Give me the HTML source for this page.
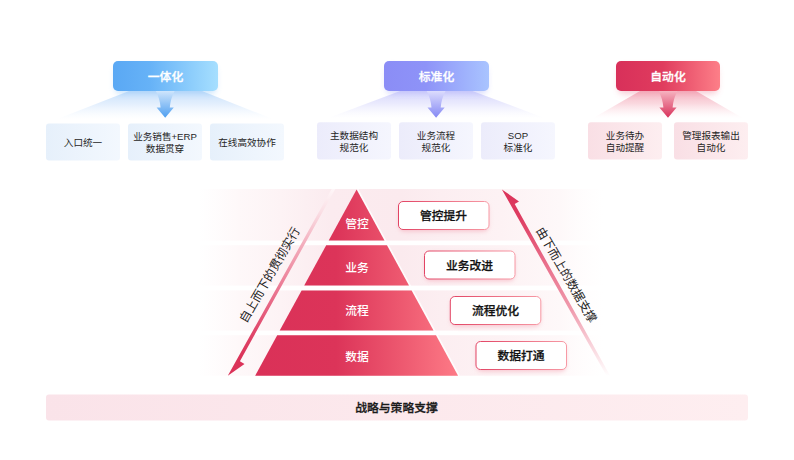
<!DOCTYPE html>
<html lang="zh-CN">
<head>
<meta charset="utf-8">
<title>战略与策略支撑</title>
<style>
html,body{margin:0;padding:0;background:#fff;}
body{width:794px;height:460px;position:relative;overflow:hidden;font-family:"Liberation Sans","Noto Sans CJK SC",sans-serif;color:#2b2b2b;}
#bg{position:absolute;left:0;top:0;width:794px;height:460px;}
.t{position:absolute;display:flex;align-items:center;justify-content:center;text-align:center;white-space:nowrap;}
.hd{color:#fff;font-weight:500;-webkit-text-stroke:0.3px #fff;font-size:11.8px;height:30px;top:60px;width:105px;}
.cd{font-size:9.6px;line-height:12px;height:37px;top:124.600px;width:74px;color:#262626;}
.py{color:#fff;font-size:11.8px;font-weight:500;width:60px;left:327px;height:20px;}
.lb{color:#111;font-size:11.8px;font-weight:500;-webkit-text-stroke:0.25px #111;width:91px;height:28px;}
.rot{font-size:12px;color:#222;width:140px;height:16px;font-weight:400;}
</style>
</head>
<body>
<svg id="bg" width="794" height="460" viewBox="0 0 794 460">
<defs>
  <linearGradient id="hb" x1="0" y1="0" x2="1" y2="0"><stop offset="0" stop-color="#5aa8f4"/><stop offset="0.35" stop-color="#66b2f7"/><stop offset="1" stop-color="#a6dfff"/></linearGradient>
  <linearGradient id="hp" x1="0" y1="0" x2="1" y2="0"><stop offset="0" stop-color="#8b8df6"/><stop offset="0.4" stop-color="#8e93f8"/><stop offset="1" stop-color="#a9c4ff"/></linearGradient>
  <linearGradient id="hr" x1="0" y1="0" x2="1" y2="0"><stop offset="0" stop-color="#d8305a"/><stop offset="0.45" stop-color="#e03c5e"/><stop offset="1" stop-color="#fd7f88"/></linearGradient>
  <linearGradient id="fb" x1="0" y1="0" x2="0" y2="1"><stop offset="0" stop-color="#c9e1fb"/><stop offset="0.4" stop-color="#e3effd"/><stop offset="0.8" stop-color="#fbfdff" stop-opacity="0.6"/><stop offset="0.9" stop-color="#ffffff" stop-opacity="0"/></linearGradient>
  <linearGradient id="fp" x1="0" y1="0" x2="0" y2="1"><stop offset="0" stop-color="#d8d8fc"/><stop offset="0.4" stop-color="#eaeafd"/><stop offset="0.8" stop-color="#fcfcff" stop-opacity="0.6"/><stop offset="0.9" stop-color="#ffffff" stop-opacity="0"/></linearGradient>
  <linearGradient id="fr" x1="0" y1="0" x2="0" y2="1"><stop offset="0" stop-color="#f5b6c3"/><stop offset="0.4" stop-color="#fad8df"/><stop offset="0.8" stop-color="#fffafb" stop-opacity="0.6"/><stop offset="0.9" stop-color="#ffffff" stop-opacity="0"/></linearGradient>
  <linearGradient id="ab" x1="0" y1="0" x2="0" y2="1"><stop offset="0" stop-color="#cfe5fc"/><stop offset="1" stop-color="#4f9ff0"/></linearGradient>
  <linearGradient id="ap" x1="0" y1="0" x2="0" y2="1"><stop offset="0" stop-color="#dcdcfd"/><stop offset="1" stop-color="#8488f4"/></linearGradient>
  <linearGradient id="ar" x1="0" y1="0" x2="0" y2="1"><stop offset="0" stop-color="#f6b3c0"/><stop offset="1" stop-color="#d8305a"/></linearGradient>
  <linearGradient id="cb" x1="0" y1="0" x2="1" y2="0"><stop offset="0" stop-color="#e6f0fb"/><stop offset="1" stop-color="#f3f8fe"/></linearGradient>
  <linearGradient id="cp" x1="0" y1="0" x2="1" y2="0"><stop offset="0" stop-color="#ececfb"/><stop offset="1" stop-color="#f5f6fe"/></linearGradient>
  <linearGradient id="cr" x1="0" y1="0" x2="1" y2="0"><stop offset="0" stop-color="#f9dfe5"/><stop offset="1" stop-color="#fdeef0"/></linearGradient>
  <linearGradient id="pyr" gradientUnits="userSpaceOnUse" x1="255" y1="0" x2="458" y2="0"><stop offset="0" stop-color="#da3158"/><stop offset="0.4" stop-color="#dc3459"/><stop offset="0.7" stop-color="#ec566e"/><stop offset="1" stop-color="#fd7a86"/></linearGradient>
  <linearGradient id="band" gradientUnits="userSpaceOnUse" x1="198" y1="0" x2="612" y2="0">
    <stop offset="0" stop-color="#fef9fa" stop-opacity="0"/>
    <stop offset="0.1" stop-color="#fef8f9"/>
    <stop offset="0.2" stop-color="#fdf3f5"/>
    <stop offset="0.32" stop-color="#fbebef"/>
    <stop offset="0.49" stop-color="#fbeaee"/>
    <stop offset="0.585" stop-color="#fceef1"/>
    <stop offset="0.73" stop-color="#fdf2f4"/>
    <stop offset="0.875" stop-color="#fef8f9"/>
    <stop offset="0.98" stop-color="#fffcfc" stop-opacity="0"/>
  </linearGradient>
  <linearGradient id="al" gradientUnits="userSpaceOnUse" x1="0" y1="189" x2="0" y2="376"><stop offset="0" stop-color="#fef6f8"/><stop offset="0.12" stop-color="#fadfe5"/><stop offset="0.3" stop-color="#f3adbc"/><stop offset="0.5" stop-color="#ec8099"/><stop offset="0.75" stop-color="#e14a6d"/><stop offset="0.9" stop-color="#db3359"/></linearGradient>
  <linearGradient id="arr" gradientUnits="userSpaceOnUse" x1="0" y1="189" x2="0" y2="376"><stop offset="0" stop-color="#db3359"/><stop offset="0.15" stop-color="#de3d62"/><stop offset="0.4" stop-color="#e96f8b"/><stop offset="0.65" stop-color="#f09cae"/><stop offset="0.85" stop-color="#f9d7de"/><stop offset="1" stop-color="#ffffff"/></linearGradient>
  <linearGradient id="bar" x1="0" y1="0" x2="1" y2="0"><stop offset="0" stop-color="#fae3e9"/><stop offset="1" stop-color="#feeef0"/></linearGradient>
  <linearGradient id="bd" x1="0" y1="0" x2="1" y2="0"><stop offset="0" stop-color="#e24464"/><stop offset="1" stop-color="#f79aa5"/></linearGradient>
  <filter id="sh" x="-20%" y="-40%" width="140%" height="200%"><feGaussianBlur stdDeviation="3"/></filter>
  <filter id="sh2" x="-20%" y="-40%" width="140%" height="200%"><feGaussianBlur stdDeviation="2"/></filter>
</defs>

<!-- group 1 blue -->
<polygon points="129,91 202,91 284,123.500 46,123.500" fill="url(#fb)"/>
<rect x="115" y="66" width="101" height="28" rx="6" fill="#8cc4f8" opacity="0.45" filter="url(#sh)"/>
<rect x="113" y="61" width="105" height="30" rx="5" fill="url(#hb)"/>
<path d="M155.8,91 Q160.0,99 160.6,107.6 L156.6,107.6 L165.2,117.8 L173.8,107.6 L169.8,107.6 Q170.4,99 174.6,91 Z" fill="url(#ab)"/>
<rect x="46" y="123.500" width="74" height="37" rx="3" fill="url(#cb)"/>
<rect x="128" y="123.500" width="74" height="37" rx="3" fill="url(#cb)"/>
<rect x="210" y="123.500" width="74" height="37" rx="3" fill="url(#cb)"/>

<!-- group 2 purple -->
<polygon points="400,91 472.500,91 555.500,122.200 317,122.200" fill="url(#fp)"/>
<rect x="386" y="66" width="101" height="28" rx="6" fill="#a9abf9" opacity="0.45" filter="url(#sh)"/>
<rect x="384" y="61" width="105" height="30" rx="5" fill="url(#hp)"/>
<path d="M426.7,91 Q430.9,99 431.5,107.6 L427.5,107.6 L436.1,117.8 L444.7,107.6 L440.7,107.6 Q441.3,99 445.5,91 Z" fill="url(#ap)"/>
<rect x="317" y="122.200" width="74" height="37.200" rx="3" fill="url(#cp)"/>
<rect x="399" y="122.200" width="74" height="37.200" rx="3" fill="url(#cp)"/>
<rect x="481" y="122.200" width="74" height="37.200" rx="3" fill="url(#cp)"/>

<!-- group 3 red -->
<polygon points="640,91 696,91 750,122.200 586,122.200" fill="url(#fr)"/>
<rect x="618" y="66" width="100" height="28" rx="6" fill="#ef8fa3" opacity="0.45" filter="url(#sh)"/>
<rect x="616" y="61" width="104" height="30" rx="5" fill="url(#hr)"/>
<path d="M658.6,91 Q662.8,99 663.4,107.6 L659.4,107.6 L668.0,117.8 L676.6,107.6 L672.6,107.6 Q673.2,99 677.4,91 Z" fill="url(#ar)"/>
<rect x="588" y="122.200" width="74" height="37.200" rx="3" fill="url(#cr)"/>
<rect x="674" y="122.200" width="74" height="37.200" rx="3" fill="url(#cr)"/>

<!-- bands -->
<rect x="198" y="189" width="414" height="51.600" fill="url(#band)"/>
<rect x="198" y="245.200" width="414" height="40.400" fill="url(#band)"/>
<rect x="198" y="290.400" width="414" height="40.200" fill="url(#band)"/>
<rect x="198" y="335.200" width="414" height="40.500" fill="url(#band)"/>

<!-- pyramid -->
<line x1="357.500" y1="189.400" x2="459" y2="375.700" stroke="#ffffff" stroke-width="1.8" opacity="0.85"/>
<polygon points="356.60,189.40 384.48,240.60 328.72,240.60" fill="url(#pyr)"/>
<polygon points="326.21,245.20 386.99,245.20 408.99,285.60 304.21,285.60" fill="url(#pyr)"/>
<polygon points="301.60,290.40 411.60,290.40 433.50,330.60 279.70,330.60" fill="url(#pyr)"/>
<polygon points="277.20,335.20 436.00,335.20 458.06,375.70 255.14,375.70" fill="url(#pyr)"/>

<!-- left arrow -->
<polygon points="227.800,375.800 331.700,189 335.300,189 239.900,361.200 244.500,364" fill="url(#al)"/>
<!-- right arrow -->
<polygon points="501.900,189.400 519,201.400 514.700,204.100 610.100,375.800 606.500,375.800" fill="url(#arr)"/>

<!-- label boxes -->
<g>
<rect x="399.0" y="204.0" width="89.5" height="27.5" rx="5" fill="#f29aaa" opacity="0.5" filter="url(#sh2)"/>
<rect x="398.5" y="201.5" width="90.5" height="28" rx="4.5" fill="#fff" stroke="url(#bd)" stroke-width="1"/>
<rect x="425.0" y="253.5" width="89.5" height="27.5" rx="5" fill="#f29aaa" opacity="0.5" filter="url(#sh2)"/>
<rect x="424.5" y="251.0" width="90.5" height="28" rx="4.5" fill="#fff" stroke="url(#bd)" stroke-width="1"/>
<rect x="450.8" y="299.0" width="89.5" height="27.5" rx="5" fill="#f29aaa" opacity="0.5" filter="url(#sh2)"/>
<rect x="450.3" y="296.5" width="90.5" height="28" rx="4.5" fill="#fff" stroke="url(#bd)" stroke-width="1"/>
<rect x="476.5" y="344.0" width="89.5" height="27.5" rx="5" fill="#f29aaa" opacity="0.5" filter="url(#sh2)"/>
<rect x="476.0" y="341.5" width="90.5" height="28" rx="4.5" fill="#fff" stroke="url(#bd)" stroke-width="1"/>
</g>

<!-- bottom bar -->
<rect x="46" y="394.500" width="702" height="26" rx="3" fill="url(#bar)"/>
</svg>

<div class="t hd" style="left:113px">一体化</div>
<div class="t hd" style="left:384px">标准化</div>
<div class="t hd" style="left:616px;width:104px">自动化</div>

<div class="t cd" style="left:46px">入口统一</div>
<div class="t cd" style="left:128px">业务销售+ERP<br>数据贯穿</div>
<div class="t cd" style="left:210px">在线高效协作</div>

<div class="t cd" style="left:317px;top:123.300px">主数据结构<br>规范化</div>
<div class="t cd" style="left:399px;top:123.300px">业务流程<br>规范化</div>
<div class="t cd" style="left:481px;top:123.300px">SOP<br>标准化</div>

<div class="t cd" style="left:588px;top:123.300px">业务待办<br>自动提醒</div>
<div class="t cd" style="left:674px;top:123.300px">管理报表输出<br>自动化</div>

<div class="t py" style="top:212.500px">管控</div>
<div class="t py" style="top:256.500px">业务</div>
<div class="t py" style="top:299.500px">流程</div>
<div class="t py" style="top:345px">数据</div>

<div class="t lb" style="left:398px;top:200.500px">管控提升</div>
<div class="t lb" style="left:424px;top:250px">业务改进</div>
<div class="t lb" style="left:450px;top:295.500px">流程优化</div>
<div class="t lb" style="left:475.500px;top:340.500px">数据打通</div>

<div class="t rot" style="left:198.400px;top:265.500px;transform:rotate(-60deg)">自上而下的贯彻实行</div>
<div class="t rot" style="left:498px;top:266px;transform:rotate(60deg)">由下而上的数据支撑</div>

<div class="t" style="left:45.500px;top:393.700px;width:702px;height:26px;font-size:11.8px;font-weight:500;-webkit-text-stroke:0.3px #1a1a1a;color:#1a1a1a">战略与策略支撑</div>
</body>
</html>
